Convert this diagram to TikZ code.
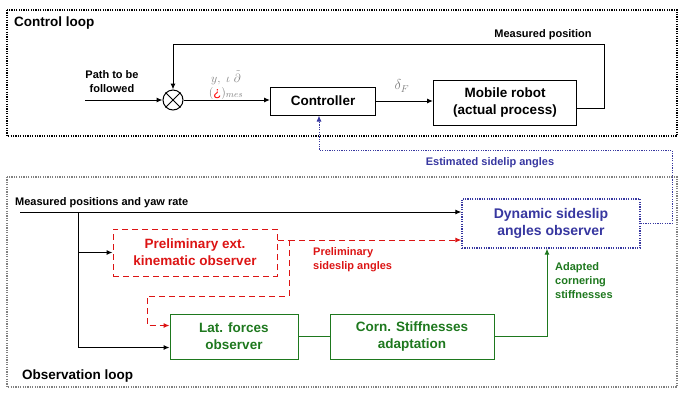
\documentclass[tikz,border=0pt]{standalone}
\usepackage{fontspec}
\setmainfont{Liberation Sans}
\usepackage{amsmath}
\usetikzlibrary{arrows.meta,calc}
\definecolor{prelim}{RGB}{220,20,20}
\definecolor{adapt}{RGB}{30,120,30}
\definecolor{dynamic}{RGB}{55,55,160}
\tikzset{
  every block/.style={draw,line width=1pt,align=center,inner sep=2pt,
    font=\fontsize{13.5}{17}\selectfont\bfseries},
  ctrlblock/.style={every block},
  prelimblock/.style={every block,prelim,dash pattern=on 6pt off 4pt},
  adaptblock/.style={every block,adapt},
  dynblock/.style={every block,dynamic,line width=1.2pt,dash pattern=on 1.2pt off 1.2pt},
  sigline/.style={line width=1pt,-{Latex[length=6pt,width=5pt]}},
  prelimline/.style={line width=1pt,prelim,dash pattern=on 6pt off 4pt},
  adaptline/.style={line width=1pt,adapt},
  dynline/.style={line width=1.2pt,dynamic,dash pattern=on 1.2pt off 1.2pt},
  framedots/.style={line width=1.2pt,dash pattern=on 1.2pt off 1.2pt},
  labeltext/.style={font=\fontsize{11}{14}\selectfont\bfseries,inner sep=0pt},
  looptitle/.style={font=\fontsize{13.5}{16}\selectfont\bfseries,inner sep=0pt,anchor=west},
}

\begin{document}
\begin{tikzpicture}[x=1pt,y=-1pt]
\useasboundingbox (0,0) rectangle (679,392);
% loop frames
\draw[framedots] (7,10) rectangle (677,136);
\draw[framedots,gray] (7,177) rectangle (677,387);
\node[looptitle] (ctrltitle) at (14,23) {Control loop};
\node[looptitle] (obstitle) at (22,376) {Observation loop};

% control loop
\node[circle,draw,line width=1pt,minimum size=20pt,inner sep=0pt] (sum) at (173,100) {};
\draw[line width=1pt] (sum.45) -- (sum.225) (sum.135) -- (sum.315);
\node[ctrlblock,minimum width=105pt,minimum height=28pt] (ctrl) at (323,101) {Controller};
\node[ctrlblock,minimum width=143pt,minimum height=45pt] (robot) at (505,102.5) {Mobile robot\\(actual process)};
\coordinate (pathin) at (85,100);
\coordinate (fbturn) at (604,44);
\node[labeltext,align=center] (pathtext) at (112,82) {Path to be\\followed};
\node[labeltext] (meastext) at (543,35) {Measured position};
\node[gray,inner sep=0pt,align=center,font=\fontsize{13}{14}\selectfont] (errtext) at (226,85)
  {$y,\ \iota\ \tilde{\partial}$\\$(\textcolor{red}{\text{¿}})_{mes}$};
\node[gray,inner sep=0pt,font=\fontsize{14}{15}\selectfont] (deltatext) at (402,86) {$\delta_F$};
\draw[sigline] (pathin) -- (sum.west);
\draw[sigline] (sum.east) -- (sum.east -| ctrl.west);
\draw[sigline] (ctrl.east) -- (ctrl.east -| robot.west);
\draw[sigline] ([yshift=-6pt]robot.east) -| (fbturn) -| (sum.north);

% observation loop
\node[dynblock,minimum width=178pt,minimum height=49pt,font=\fontsize{14}{17}\selectfont\bfseries] (dyn) at (551,223.5) {Dynamic sideslip\\angles observer};
\node[prelimblock,minimum width=164pt,minimum height=47pt] (prelimobs) at (195,252.5) {Preliminary ext.\\kinematic observer};
\node[adaptblock,minimum width=128pt,minimum height=45pt] (lat) at (234,336.5) {Lat. forces\\observer};
\node[adaptblock,minimum width=164pt,minimum height=45pt] (corn) at (412,336.5) {Corn. Stiffnesses\\adaptation};

\coordinate (measin) at (20,212);
\coordinate (split) at (78,212);
\coordinate (prelimout) at (289,240);
\coordinate (prelimturn) at (147,296);
\coordinate (estturn) at (672,150);
\node[labeltext,anchor=west] (measpos) at (15,203) {Measured positions and yaw rate};
\node[labeltext,anchor=west,align=left,prelim] (prelimtext) at (313,260) {Preliminary\\sideslip angles};
\node[labeltext,anchor=north west,align=left,adapt] (adapttext) at (555,262) {Adapted\\cornering\\stiffnesses};
\node[labeltext,dynamic] (esttext) at (490,163) {Estimated sidelip angles};

\draw[sigline] (measin) -- (measin -| dyn.west);
\draw[sigline] (split) |- ([yshift=-11pt]lat.west);
\draw[sigline] (split |- prelimobs.west) -- (prelimobs.west);
\draw[prelimline] (prelimout -| prelimobs.east) -- (prelimout);
\draw[prelimline,sigline] (prelimout) -- (prelimout -| dyn.west);
\draw[prelimline,sigline] (prelimout) |- (prelimturn) |- ([yshift=11pt]lat.west);
\draw[adaptline] (lat.east |- corn.west) -- (corn.west);
\draw[adaptline,sigline] (corn.east) -| ([xshift=-4pt]dyn.south);
\draw[dynline,sigline] (dyn.east) -| (estturn) -| ([xshift=-4pt]ctrl.south);
\end{tikzpicture}
\end{document}
